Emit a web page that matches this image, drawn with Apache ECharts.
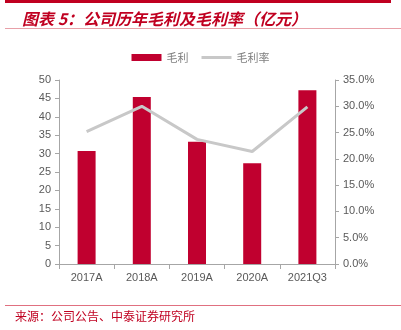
<!DOCTYPE html>
<html><head><meta charset="utf-8">
<script src="https://cdn.jsdelivr.net/npm/echarts@6/dist/echarts.min.js"></script>
<style>html,body{margin:0;padding:0;background:#fff}#c{width:401px;height:330px}</style>
</head><body><div id="c"></div>
<script>
var categories = ['2017A','2018A','2019A','2020A','2021Q3'];
var grossProfit = [30.7, 45.4, 33.2, 27.4, 47.2];
var grossMargin = [25.2, 30.0, 23.7, 21.4, 29.9];
var leftTicks = [0,5,10,15,20,25,30,35,40,45,50];
var rightTicks = [0,5,10,15,20,25,30,35];

var chart = echarts.init(document.getElementById('c'));
var axisText = {color:'#595959', fontSize:11, fontFamily:'Liberation Sans, Arial, sans-serif'};
chart.setOption({
  animation:false,
  title:{text:'图表 5：公司历年毛利及毛利率（亿元）', left:17, top:6,
    textStyle:{color:'#c00020', fontSize:16, fontStyle:'italic', fontWeight:'bold', fontFamily:'Noto Sans CJK SC'}},
  legend:{top:47, left:'center', itemGap:13, itemWidth:30, itemHeight:7,
    textStyle:{color:'#7f7f7f', fontSize:11, fontFamily:'Noto Sans CJK SC'},
    data:[{name:'毛利', icon:'rect'},
          {name:'毛利率', icon:'path://M0,0 M0,2 L30,2 L30,5 L0,5 Z M30,7', itemStyle:{color:'#c8c8c8'}}]},
  grid:{left:59, right:66, top:80, bottom:66},
  xAxis:{type:'category', data:categories,
    axisLine:{lineStyle:{color:'#a6a6a6'}},
    axisTick:{show:true, alignWithLabel:false, lineStyle:{color:'#a6a6a6'}},
    axisLabel:Object.assign({margin:8}, axisText)},
  yAxis:[
    {type:'value', min:leftTicks[0], max:leftTicks[leftTicks.length-1], interval:5,
     axisLine:{show:true, lineStyle:{color:'#a6a6a6'}}, axisTick:{show:true, length:4, lineStyle:{color:'#a6a6a6'}},
     splitLine:{show:false}, axisLabel:Object.assign({margin:8}, axisText)},
    {type:'value', min:rightTicks[0], max:rightTicks[rightTicks.length-1], interval:5,
     axisLine:{show:true, lineStyle:{color:'#a6a6a6'}}, axisTick:{show:true, length:4, lineStyle:{color:'#a6a6a6'}},
     splitLine:{show:false}, axisLabel:Object.assign({margin:8, formatter:function(v){return v.toFixed(1)+'%';}}, axisText)}
  ],
  series:[
    {name:'毛利', type:'bar', data:grossProfit, barWidth:18, itemStyle:{color:'#c0002f'}},
    {name:'毛利率', type:'line', yAxisIndex:1, data:grossMargin, symbol:'none',
     lineStyle:{color:'#c8c8c8', width:3}, itemStyle:{color:'#c8c8c8'}}
  ],
  graphic:[
    {type:'rect', shape:{x:5, y:0, width:386, height:3}, style:{fill:'#c00020'}},
    {type:'line', shape:{x1:5, y1:28.5, x2:401, y2:28.5}, style:{stroke:'#e8a0a8', lineWidth:1}},
    {type:'line', shape:{x1:5, y1:305.5, x2:401, y2:305.5}, style:{stroke:'#e07080', lineWidth:1}},
    {type:'text', left:15, top:310, style:{text:'来源：公司公告、中泰证券研究所', fill:'#c00020', fontSize:12, fontFamily:'Noto Sans CJK SC'}}
  ]
});
</script></body></html>
